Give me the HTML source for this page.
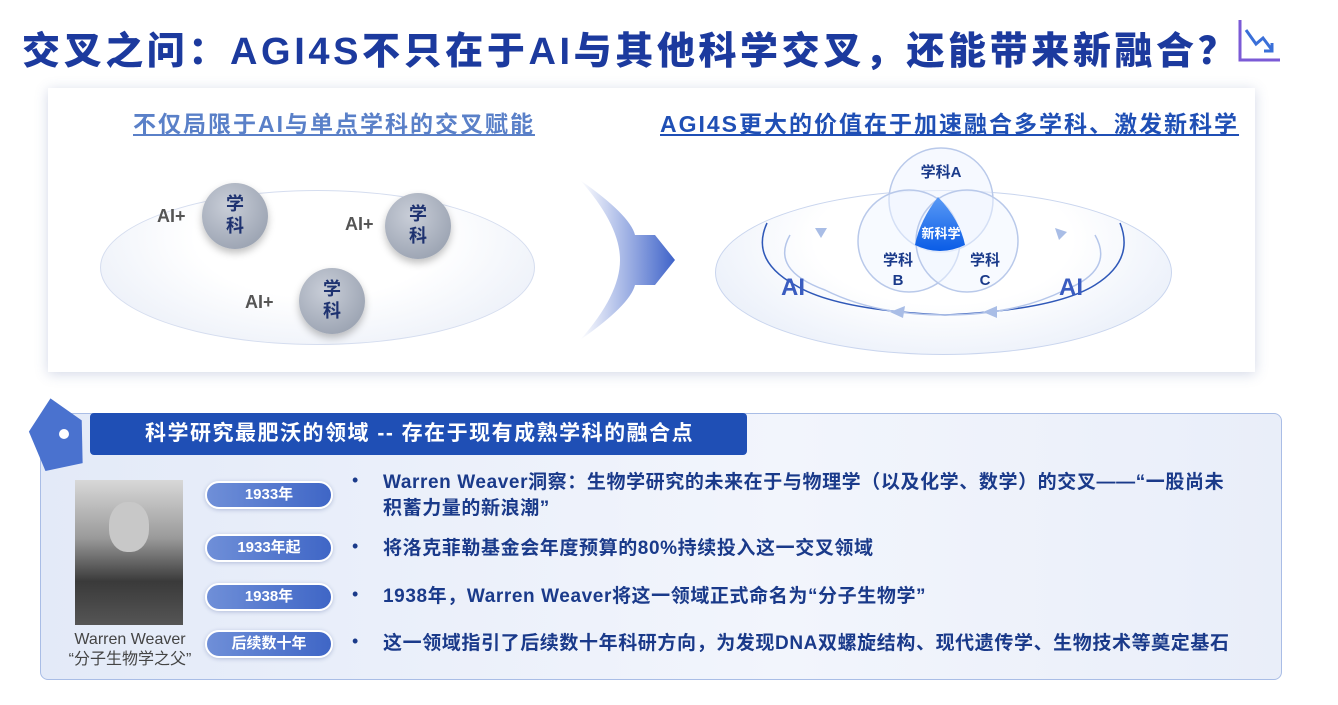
<!DOCTYPE html>
<html><head><meta charset="utf-8"><style>
*{margin:0;padding:0;box-sizing:border-box}
body{width:1338px;height:705px;background:#fff;position:relative;overflow:hidden;font-family:"Liberation Sans","Noto Sans CJK SC",sans-serif}
.a{position:absolute}
.title{left:22px;top:20px;font-size:38px;font-weight:900;color:#1c3a9e;white-space:nowrap;letter-spacing:3.6px}
.card{left:48px;top:88px;width:1207px;height:284px;background:#fff;box-shadow:0 2px 12px rgba(80,100,160,.25)}
.sub{font-size:23px;font-weight:700;text-decoration:underline;white-space:nowrap}
.g{border-radius:50%;background:radial-gradient(circle at 40% 35%,#c9ced8,#8f98a8);box-shadow:0 4px 8px rgba(0,0,0,.25);color:#1e3270;font-size:18px;font-weight:700;text-align:center;line-height:22px;padding-top:10px}
.ai{font-size:18px;font-weight:700;color:#555}
.panel{left:40px;top:413px;width:1242px;height:267px;border:1px solid #a9bde6;border-radius:8px;background:linear-gradient(90deg,#e3eaf8,#f2f5fc 60%,#e9eef9)}
.bar{left:90px;top:413px;width:657px;height:42px;background:#1f4fb5;border-radius:4px;color:#fff;font-size:21px;font-weight:700;line-height:42px;padding-left:55px;letter-spacing:1.5px}
.pill{left:205px;width:128px;height:28px;border-radius:14px;background:linear-gradient(90deg,#6f8fd8,#3f66c6);color:#fff;font-size:15px;font-weight:700;text-align:center;line-height:24px;border:2px solid #fff;box-shadow:0 1px 4px rgba(60,80,150,.3)}
.t{left:383px;font-size:19px;font-weight:700;color:#1a3a8a;line-height:26px;letter-spacing:.6px;white-space:nowrap}
.dot{left:352px;font-size:18px;color:#1a3a8a}
</style></head><body>
<div class="a title">交叉之问：AGI4S不只在于AI与其他科学交叉，还能带来新融合？</div>
<svg class="a" style="left:1236px;top:18px" width="46" height="46" viewBox="0 0 46 46"><path d="M4 2V42H44" stroke="#7b5ad6" stroke-width="3" fill="none"/><path d="M10 12L20 26L27 20L36 32" stroke="#3a6fd8" stroke-width="3" fill="none"/><path d="M36 25V33H28" stroke="#3a6fd8" stroke-width="3" fill="none"/></svg>
<div class="a card"></div>
<div class="a sub" style="left:133px;top:105px;color:#5a80c8;letter-spacing:2px">不仅局限于AI与单点学科的交叉赋能</div>
<div class="a sub" style="left:660px;top:105px;color:#1f4fb5;letter-spacing:2px">AGI4S更大的价值在于加速融合多学科、激发新科学</div>
<div class="a" style="left:100px;top:190px;width:435px;height:155px;border-radius:50%;background:radial-gradient(ellipse at 50% 30%,#fff 40%,#e4eaf6);border:1px solid #d5ddef"></div>
<div class="a" style="left:715px;top:190px;width:457px;height:165px;border-radius:50%;background:radial-gradient(ellipse at 50% 30%,#fff 40%,#e0e8f7);border:1px solid #c9d5ee"></div>
<div class="a g" style="left:202px;top:183px;width:66px;height:66px">学<br>科</div>
<div class="a g" style="left:385px;top:193px;width:66px;height:66px">学<br>科</div>
<div class="a g" style="left:299px;top:268px;width:66px;height:66px">学<br>科</div>
<div class="a ai" style="left:157px;top:206px">AI+</div>
<div class="a ai" style="left:345px;top:214px">AI+</div>
<div class="a ai" style="left:245px;top:292px">AI+</div>
<svg class="a" style="left:580px;top:175px" width="100" height="170"><defs><linearGradient id="ch" x1="0" x2="1"><stop offset="0" stop-color="#fff"/><stop offset="1" stop-color="#3f63c9"/></linearGradient></defs><path d="M0 5Q50 40 55 60L75 60L95 85L75 110L55 110Q50 130 0 165Q40 120 40 85Q40 50 0 5Z" fill="url(#ch)"/></svg>
<svg class="a" style="left:715px;top:140px" width="460" height="220">
<path d="M52 83Q35 120 80 145Q120 170 230 175Q340 170 380 145Q420 120 405 83" fill="none" stroke="#2f58b8" stroke-width="1.5"/>
<path d="M75 95Q55 130 110 150Q160 175 230 175Q300 175 350 150Q400 130 380 95" fill="none" stroke="#b5c6ea" stroke-width="1.5"/>
<polygon points="100,88 112,88 106,98" fill="#a9bde6"/><polygon points="340,88 352,92 344,100" fill="#a9bde6"/>
<polygon points="175,172 190,166 188,178" fill="#a9bde6"/><polygon points="268,172 282,166 282,178" fill="#a9bde6"/>
<defs><linearGradient id="v" x1="0" y1="0" x2="0" y2="1"><stop offset="0" stop-color="#5a9af5"/><stop offset="1" stop-color="#0a5ce6"/></linearGradient></defs>
<circle cx="226" cy="60" r="52" fill="rgba(240,245,255,.6)" stroke="#b9c9ea" stroke-width="1.5"/>
<circle cx="194" cy="101" r="51" fill="rgba(240,245,255,.5)" stroke="#b9c9ea" stroke-width="1.5"/>
<circle cx="252" cy="101" r="51" fill="rgba(240,245,255,.5)" stroke="#b9c9ea" stroke-width="1.5"/>
<path d="M223 57Q245 80 250 105Q225 117 200 105Q205 80 223 57Z" fill="url(#v)"/>
<text x="226" y="98" font-size="13" font-weight="700" fill="#fff" text-anchor="middle">新科学</text>
<text x="226" y="37" font-size="15" font-weight="700" fill="#1a3a8a" text-anchor="middle">学科A</text>
<text x="183" y="125" font-size="15" font-weight="700" fill="#1a3a8a" text-anchor="middle">学科</text>
<text x="183" y="145" font-size="15" font-weight="700" fill="#1a3a8a" text-anchor="middle">B</text>
<text x="270" y="125" font-size="15" font-weight="700" fill="#1a3a8a" text-anchor="middle">学科</text>
<text x="270" y="145" font-size="15" font-weight="700" fill="#1a3a8a" text-anchor="middle">C</text>
<text x="78" y="155" font-size="24" font-weight="700" fill="#3a5cc0" text-anchor="middle">AI</text>
<text x="356" y="155" font-size="24" font-weight="700" fill="#3a5cc0" text-anchor="middle">AI</text>
</svg>
<div class="a panel"></div>
<svg class="a" style="left:26px;top:396px" width="62" height="76"><polygon points="32,2 58,30 50,72 12,72 4,30" fill="#4a72cf" transform="rotate(-12 30 38)"/><circle cx="38" cy="38" r="5" fill="#fff"/></svg>
<div class="a bar">科学研究最肥沃的领域 -- 存在于现有成熟学科的融合点</div>
<div class="a" style="left:75px;top:480px;width:108px;height:145px;background:linear-gradient(180deg,#d8d8d8,#9a9a9a 40%,#3a3a3a 70%,#555);"><div class="a" style="left:34px;top:22px;width:40px;height:50px;border-radius:45%;background:#c8c8c8"></div></div>
<div class="a" style="left:55px;top:630px;width:150px;text-align:center;font-size:16px;color:#444;line-height:20px">Warren Weaver<br>“分子生物学之父”</div>
<div class="a pill" style="top:481px">1933年</div>
<div class="a pill" style="top:534px">1933年起</div>
<div class="a pill" style="top:583px">1938年</div>
<div class="a pill" style="top:630px">后续数十年</div>
<div class="a dot" style="top:470px">•</div>
<div class="a dot" style="top:536px">•</div>
<div class="a dot" style="top:584px">•</div>
<div class="a dot" style="top:631px">•</div>
<div class="a t" style="top:470px">Warren Weaver洞察：生物学研究的未来在于与物理学（以及化学、数学）的交叉——“一股尚未<br>积蓄力量的新浪潮”</div>
<div class="a t" style="top:536px">将洛克菲勒基金会年度预算的80%持续投入这一交叉领域</div>
<div class="a t" style="top:584px">1938年，Warren Weaver将这一领域正式命名为“分子生物学”</div>
<div class="a t" style="top:631px">这一领域指引了后续数十年科研方向，为发现DNA双螺旋结构、现代遗传学、生物技术等奠定基石</div>
</body></html>
